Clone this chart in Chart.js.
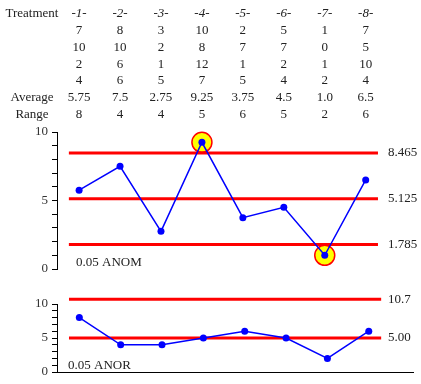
<!DOCTYPE html>
<html><head><meta charset="utf-8">
<script src="https://cdn.jsdelivr.net/npm/chart.js@4"></script>
<style>
html,body{margin:0;padding:0;background:#fff;width:421px;height:384px;overflow:hidden}
#c1{position:absolute;left:0;top:0}
#c2{position:absolute;left:0;top:285px}
</style></head><body>
<canvas id="c1" width="421" height="290"></canvas>
<canvas id="c2" width="421" height="99"></canvas>
<script>
const treatments = ['-1-','-2-','-3-','-4-','-5-','-6-','-7-','-8-'];
const obs1 = [7,8,3,10,2,5,1,7];
const obs2 = [10,10,2,8,7,7,0,5];
const obs3 = [2,6,1,12,1,2,1,10];
const obs4 = [4,6,5,7,5,4,2,4];
const averages = [5.75,7.5,2.75,9.25,3.75,4.5,1.0,6.5];
const averageLabels = ['5.75','7.5','2.75','9.25','3.75','4.5','1.0','6.5'];
const ranges = [8,4,4,5,6,5,2,6];
const anomLimits = [8.465, 5.125, 1.785];
const anomLimitLabels = ['8.465','5.125','1.785'];
const anorLimits = [10.7, 5.00];
const anorLimitLabels = ['10.7','5.00'];
const yTickLabels = [0,5,10];

const FONT = '"Liberation Serif", "DejaVu Serif", serif';
const TXT = '#222';
const RED = '#ff0000';
const BLUE = '#0000ff';

function limitDatasets(limits){
  return limits.map(L => ({
    data:[{x:0.75,y:L},{x:8.3,y:L}],
    borderColor:RED, borderWidth:3, pointRadius:0, order:1, clip:false, borderCapStyle:'butt'
  }));
}
function yScale(){
  return {
    min:0, max:10,
    ticks:{stepSize:1, autoSkip:false, padding:4, color:'#333', font:{family:FONT,size:13},
      callback:(v)=> yTickLabels.includes(v) ? String(v) : ''},
    grid:{drawOnChartArea:false, drawTicks:true, tickLength:5, color:'#000', lineWidth:1},
    border:{display:true, color:'#000', width:1},
    afterFit:(s)=>{ s.width = 57; }
  };
}

const lo = Math.min(...anomLimits), hi = Math.max(...anomLimits);
const outPts = averages.map((v,i)=>({x:i+1,y:v})).filter(p => p.y > hi || p.y < lo);

const topText = {
  id:'topText',
  afterDraw(chart){
    const ctx = chart.ctx, xs = chart.scales.x, ys = chart.scales.y;
    ctx.save();
    ctx.fillStyle = TXT;
    ctx.textBaseline = 'middle';
    ctx.font = '13px ' + FONT;
    ctx.textAlign = 'center';
    const rowY = [14, 31, 47.7, 64.3, 81, 97.7, 114.3];
    ctx.fillText('Treatment', 32, rowY[0]);
    ctx.fillText('Average', 32, rowY[5]);
    ctx.fillText('Range', 32, rowY[6]);
    const rows = [obs1, obs2, obs3, obs4];
    for (let i = 0; i < treatments.length; i++) {
      const x = xs.getPixelForValue(i+1);
      ctx.font = 'italic 13px ' + FONT;
      ctx.fillText(treatments[i], x, rowY[0]);
      ctx.font = '13px ' + FONT;
      rows.forEach((r,k) => ctx.fillText(String(r[i]), x, rowY[k+1]));
      ctx.fillText(averageLabels[i], x, rowY[5]);
      ctx.fillText(String(ranges[i]), x, rowY[6]);
    }
    ctx.textAlign = 'left';
    anomLimits.forEach((L,k) => ctx.fillText(anomLimitLabels[k], 388, ys.getPixelForValue(L)));
    ctx.fillText('0.05 ANOM', 76, 263);
    ctx.restore();
  }
};

new Chart(document.getElementById('c1'), {
  type:'line',
  data:{datasets:[
    ...limitDatasets(anomLimits),
    {data:averages.map((v,i)=>({x:i+1,y:v})), borderColor:BLUE, borderWidth:1.5,
     pointRadius:3.5, pointBackgroundColor:BLUE, pointBorderColor:BLUE, pointBorderWidth:0, order:0, clip:false},
    {data:outPts, showLine:false, pointRadius:10, pointBackgroundColor:'#ffff00',
     pointBorderColor:RED, pointBorderWidth:1.5, order:2, clip:false}
  ]},
  options:{
    responsive:false, animation:false, events:[],
    layout:{padding:{top:132,bottom:21,left:0,right:8}},
    plugins:{legend:{display:false}, tooltip:{enabled:false}},
    scales:{
      x:{type:'linear', min:0.46, max:9.07, display:false},
      y:yScale()
    }
  },
  plugins:[topText]
});

const bottomText = {
  id:'bottomText',
  afterDraw(chart){
    const ctx = chart.ctx, ys = chart.scales.y;
    ctx.save();
    ctx.fillStyle = TXT;
    ctx.textBaseline = 'middle';
    ctx.font = '13px ' + FONT;
    ctx.textAlign = 'left';
    anorLimits.forEach((L,k) => ctx.fillText(anorLimitLabels[k], 388, ys.getPixelForValue(L)));
    ctx.fillText('0.05 ANOR', 68, 80.7);
    ctx.restore();
  }
};

new Chart(document.getElementById('c2'), {
  type:'line',
  data:{datasets:[
    ...limitDatasets(anorLimits),
    {data:ranges.map((v,i)=>({x:i+1,y:v})), borderColor:BLUE, borderWidth:1.5,
     pointRadius:3.5, pointBackgroundColor:BLUE, pointBorderColor:BLUE, pointBorderWidth:0, order:0, clip:false}
  ]},
  options:{
    responsive:false, animation:false, events:[],
    layout:{padding:{top:19,bottom:12,left:0,right:8}},
    plugins:{legend:{display:false}, tooltip:{enabled:false}},
    scales:{
      x:{type:'linear', min:0.46, max:9.07, display:true,
         ticks:{display:false}, grid:{display:false, drawTicks:false},
         border:{display:true, color:'#000', width:1}},
      y:yScale()
    }
  },
  plugins:[bottomText]
});
</script>
</body></html>
